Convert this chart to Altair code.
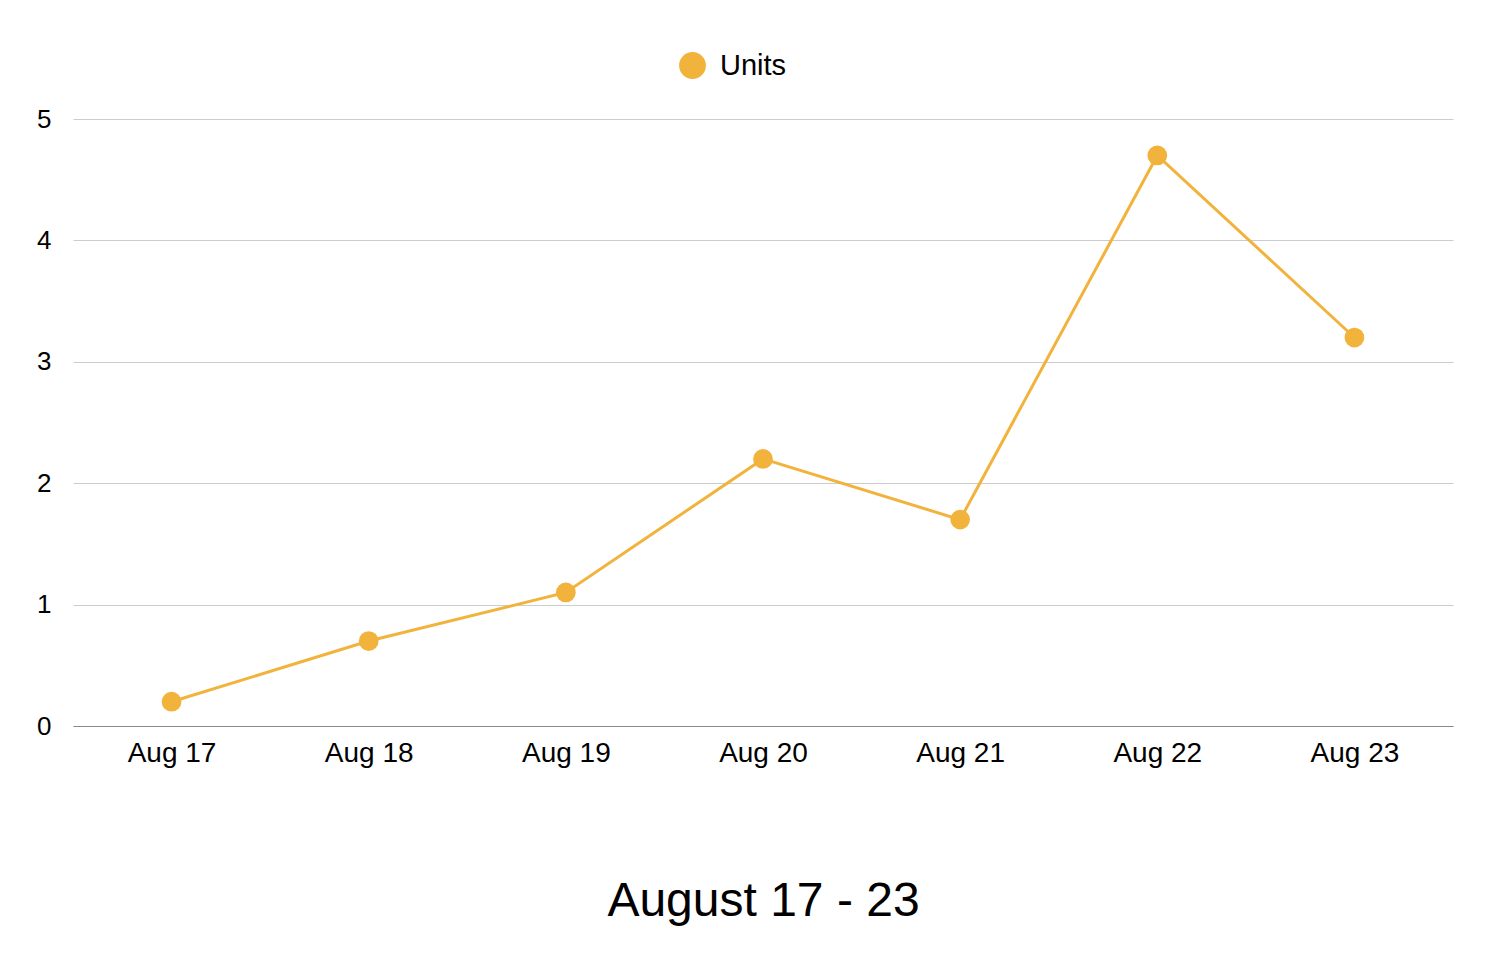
import altair as alt
import pandas as pd

days = ["Aug 17", "Aug 18", "Aug 19", "Aug 20", "Aug 21", "Aug 22", "Aug 23"]
units = [0.2, 0.7, 1.1, 2.2, 1.7, 4.7, 3.2]
series = ["Units"] * len(days)

df = pd.DataFrame({"day": days, "units": units, "series": series})
COLOR = "#F2B33D"
FONT = "Liberation Sans"

x = alt.X("day:O", sort=days, scale=alt.Scale(type="point", padding=0.5),
          axis=alt.Axis(title="August 17 - 23", labelAngle=0, labelFontSize=28,
                        labelPadding=13, ticks=False, grid=False, domainColor="#888888",
                        domainWidth=1.2, titleFontSize=48, titleFontWeight="normal",
                        titlePadding=110, titleColor="#000000", labelColor="#000000"))
y = alt.Y("units:Q", scale=alt.Scale(domain=[0, 5], nice=False),
          axis=alt.Axis(title=None, values=[0, 1, 2, 3, 4, 5], labelFontSize=26,
                        labelPadding=22, ticks=False, domain=False, gridColor="#cccccc",
                        gridWidth=1, labelColor="#000000"))

line = alt.Chart(df).mark_line(color=COLOR, strokeWidth=3).encode(x=x, y=y)
pts = alt.Chart(df).mark_circle(size=390, opacity=1).encode(
    x=x, y=y,
    color=alt.Color("series:N", scale=alt.Scale(range=[COLOR]),
                    legend=alt.Legend(title=None, orient="none", legendX=605, legendY=-68,
                                      symbolType="circle", symbolSize=720, labelFontSize=29,
                                      labelColor="#000000", padding=0, labelOffset=13)))

chart = (line + pts).properties(
    width=1380, height=607,
    autosize=alt.AutoSizeParams(type="none"),
    padding={"left": 65, "top": 111, "right": 20, "bottom": 225},
).configure(font=FONT).configure_view(stroke=None)

chart.save("out.html", embed_options={"renderer": "svg", "actions": False})
